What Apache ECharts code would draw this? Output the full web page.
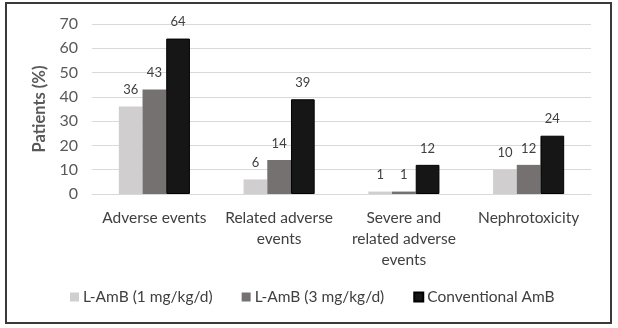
<!DOCTYPE html>
<html><head><meta charset="utf-8">
<script src="https://cdn.jsdelivr.net/npm/echarts@6/dist/echarts.min.js"></script>
<style>html,body{margin:0;padding:0;background:#fff}#c{width:618px;height:328px}</style>
</head><body><div id="c"></div>
<script>
const categories = ["Adverse events", "Related adverse\nevents", "Severe and\nrelated adverse\nevents", "Nephrotoxicity"];
const seriesNames = ["L-AmB (1 mg/kg/d)", "L-AmB (3 mg/kg/d)", "Conventional AmB"];
const lamb1 = [36, 6, 1, 10];
const lamb3 = [43, 14, 1, 12];
const conv = [64, 39, 12, 24];
const yTicks = [0, 70, 10];

const colors = ["#d0cece", "#767171", "#161616"];
const font = "Lato, 'Open Sans', sans-serif";
const chart = echarts.init(document.getElementById('c'), null, {renderer: 'canvas'});
const values = [lamb1, lamb3, conv];
chart.setOption({
  animation: false,
  textStyle: {fontFamily: font},
  graphic: [{type: 'rect', shape: {x: 6, y: 3, width: 605, height: 320}, style: {fill: 'none', stroke: '#3a3a3a', lineWidth: 2}}],
  grid: {left: 92, right: 27, top: 24, bottom: 134},
  legend: {
    bottom: 18, left: 65, itemWidth: 9, itemHeight: 9, itemGap: 29,
    icon: 'rect',
    textStyle: {fontSize: 15.5, color: '#404040', fontFamily: font, padding: [0, 0, 0, -1]},
    data: seriesNames
  },
  xAxis: {
    type: 'category', data: categories,
    axisLine: {lineStyle: {color: '#d9d9d9'}},
    axisTick: {show: false},
    axisLabel: {fontSize: 15.5, color: '#404040', lineHeight: 21, margin: 13, interval: 0, fontFamily: font}
  },
  yAxis: {
    type: 'value', min: yTicks[0], max: yTicks[1], interval: yTicks[2],
    name: 'Patients (%)', nameLocation: 'middle', nameGap: 18,
    nameTextStyle: {fontSize: 16.5, fontWeight: 'bold', color: '#595959', fontFamily: font},
    axisLine: {show: false}, axisTick: {show: false},
    axisLabel: {fontSize: 16, color: '#595959', margin: 14, fontFamily: font},
    splitLine: {lineStyle: {color: '#d9d9d9'}}
  },
  series: seriesNames.map((n, i) => ({
    name: n, type: 'bar', data: values[i],
    barGap: '0%', barCategoryGap: '43%',
    itemStyle: {color: colors[i], borderColor: i === 2 ? '#000' : colors[i], borderWidth: i === 2 ? 1 : 0},
    label: {show: true, position: 'top', distance: 10, fontSize: 13, color: '#404040', fontFamily: font}
  }))
});
</script></body></html>
